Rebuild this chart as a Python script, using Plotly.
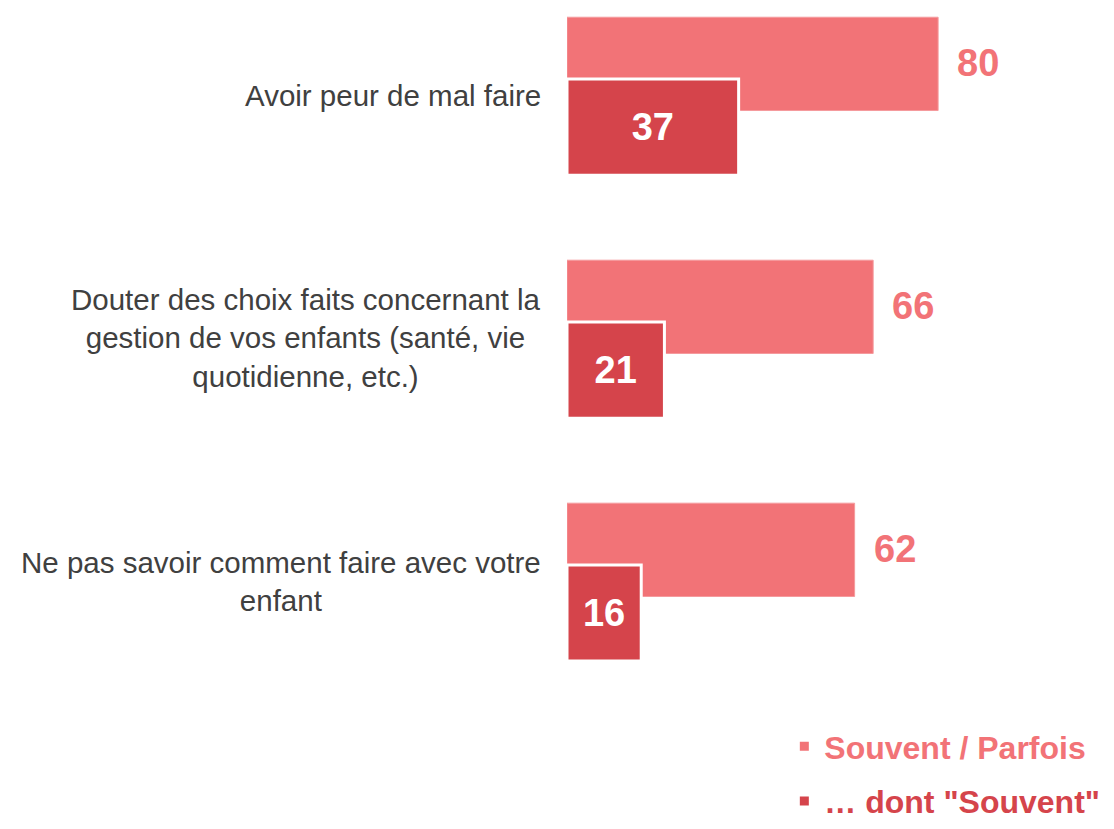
import plotly.graph_objects as go

# data
categories = [
    "Avoir peur de mal faire",
    "Douter des choix faits concernant la<br>gestion de vos enfants (santé, vie<br>quotidienne, etc.)",
    "Ne pas savoir comment faire avec votre<br>enfant",
]
souvent_parfois = [80, 66, 62]
dont_souvent = [37, 21, 16]
series_names = ["Souvent / Parfois", "… dont \"Souvent\""]

LIGHT = "#F27377"
DARK = "#D5444B"
FONT = "Arial, Liberation Sans, sans-serif"

fig = go.Figure()

# big bar (souvent / parfois)
fig.add_trace(go.Bar(
    y=categories, x=souvent_parfois, orientation="h",
    marker=dict(color=LIGHT, line=dict(color="#F59A9D", width=1)),
    width=0.384, offset=-0.322,
    showlegend=False, hoverinfo="x",
))

# small bar (dont souvent), drawn over the big one
fig.add_trace(go.Bar(
    y=categories, x=dont_souvent, orientation="h",
    marker=dict(color=DARK, line=dict(color="white", width=3)),
    width=0.396, offset=-0.068,
    text=dont_souvent, textposition="inside", insidetextanchor="middle",
    textfont=dict(color="white", size=38, family=FONT, weight="bold"),
    showlegend=False, hoverinfo="x",
))

# legend entries (square markers)
for name, col in zip(series_names, [LIGHT, DARK]):
    fig.add_trace(go.Scatter(
        x=[None], y=[None], mode="markers",
        marker=dict(symbol="square", size=9, color=col),
        name=f'<b><span style="color:{col}">{name}</span></b>',
        legendgroup=name,
    ))

# values outside the big bars
for cat, v in zip(categories, souvent_parfois):
    fig.add_annotation(
        x=v, y=cat, yshift=32, xanchor="left", xshift=17,
        text=f"<b>{v}</b>", showarrow=False,
        font=dict(color=LIGHT, size=38, family=FONT),
    )

# category labels on the left
for cat in categories:
    fig.add_annotation(
        x=0, xref="paper", y=cat, xanchor="right", xshift=-24,
        text=cat, showarrow=False, align="center",
        font=dict(color="#404040", size=29.5, family=FONT),
    )

# page body has an 8px margin, so the figure is a bit smaller than the window
fig.update_layout(
    width=1106, height=821,
    margin=dict(l=559, r=14, t=0, b=0),
    paper_bgcolor="white", plot_bgcolor="white",
    barmode="overlay",
    font=dict(family=FONT),
    xaxis=dict(range=[0, 114.9], visible=False),
    yaxis=dict(type="category", categoryorder="array", categoryarray=categories,
               range=[3.019, -0.360], visible=False),
    legend=dict(x=1.01, xanchor="right", y=0, yanchor="bottom",
                font=dict(size=32, family=FONT), tracegroupgap=10,
                bgcolor="rgba(0,0,0,0)", itemwidth=30),
)

fig.write_html("out.html")
